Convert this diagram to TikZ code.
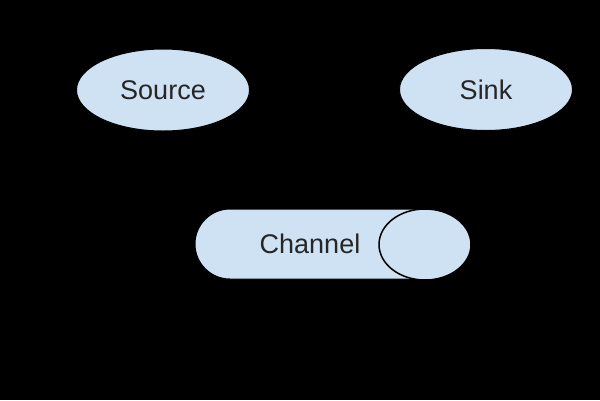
\documentclass[tikz,border=0pt]{standalone}
\usepackage{fontspec}
\setmainfont{Liberation Sans}
\usetikzlibrary{shapes.geometric}
\definecolor{pale}{HTML}{CFE2F3}
\begin{document}
\begin{tikzpicture}[x=1pt,y=-1pt,
  blob/.style={ellipse,draw=black,line width=1pt,fill=pale,minimum width=173pt,minimum height=82pt,inner sep=0pt},
  lbl/.style={font=\fontsize{27}{30}\selectfont,text=black!85}]
\fill[black] (0,0) rectangle (600,400);
\useasboundingbox (0,0) rectangle (600,400);
\node[blob] (source) at (163,90) {};
\node[lbl] (sourcet) at (163,90) {Source};
\node[blob] (sink) at (486,89.5) {};
\node[lbl] (sinkt) at (486,89.5) {Sink};
\draw[fill=pale,draw=black,line width=1pt,rounded corners=35pt] (195,209) rectangle (450,279);
\node[ellipse,draw=black,line width=1.5pt,fill=pale,minimum width=92pt,minimum height=71pt,inner sep=0pt] (cap) at (425,244.5) {};
\node[lbl] (channel) at (310,244) {Channel};
\end{tikzpicture}
\end{document}
